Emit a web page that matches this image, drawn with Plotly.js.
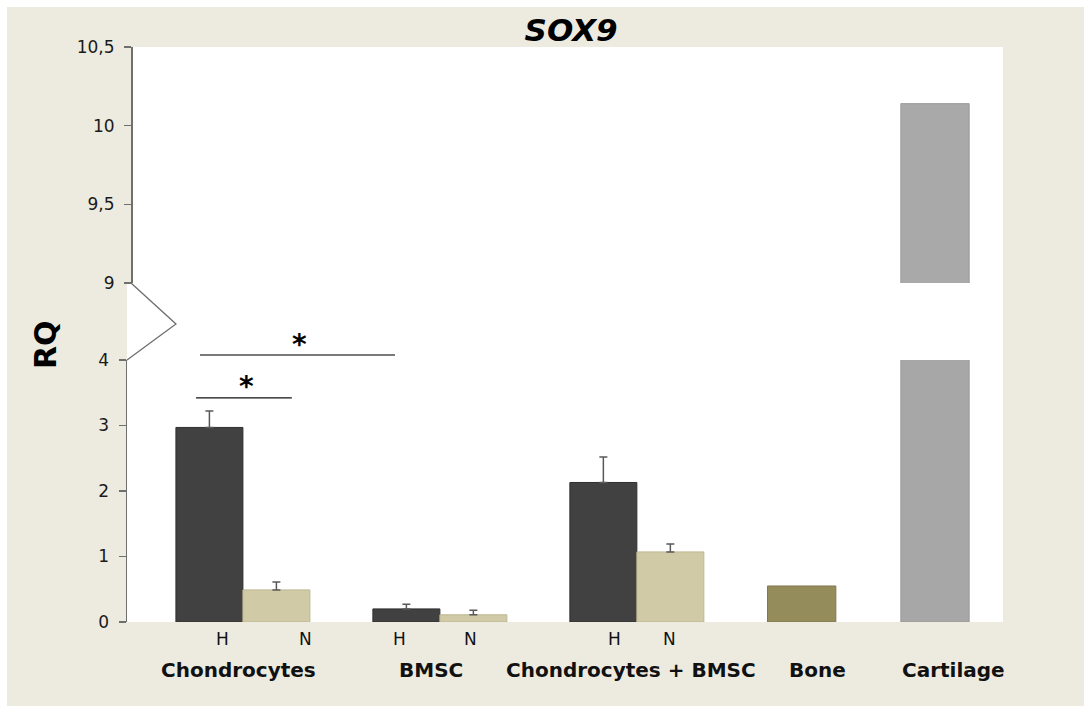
<!DOCTYPE html>
<html>
<head>
<meta charset="utf-8">
<script src="https://cdn.plot.ly/plotly-3.0.1.min.js"></script>
<style>
  html, body { margin: 0; padding: 0; background: #ffffff; }
  #chart { position: absolute; left: 7px; top: 7px; width: 1077px; height: 699px; }
</style>
</head>
<body>
<div id="chart"></div>
<script>
// ---- data ----
const groups = ['Chondrocytes', 'BMSC', 'Chondrocytes + BMSC'];
const singles = ['Bone', 'Cartilage'];
const hValues = [2.97, 0.20, 2.13];
const hErrors = [0.25, 0.07, 0.39];
const nValues = [0.49, 0.11, 1.07];
const nErrors = [0.12, 0.07, 0.12];
const boneValue = [0.55];
const cartilageValue = [10.14];
const seriesLabels = ['H', 'N'];
const lowerTicks = [0, 1, 2, 3, 4];
const upperTicks = [9, 9.5, 10, 10.5];

// ---- layout helpers (positions in x-axis units, 1 unit = one bar width) ----
const groupCenters = [1.73, 4.67, 7.61];
const singleCenters = [10.07, 12.06];
const hPos = groupCenters.map(c => c - 0.5);
const nPos = groupCenters.map(c => c + 0.5);
const hLabelPos = [1.42, 4.07, 7.28];
const nLabelPos = [2.67, 5.13, 8.10];
const groupLabelPos = [1.67, 4.54, 7.52];
const singleLabelPos = [10.31, 12.33];

const lowerTop = 0.4557;   // lower panel domain top
const upperBot = 0.5896;   // upper panel domain bottom
const upperAxisShift = 0.00457;

const FONT = 'DejaVu Sans, Verdana, sans-serif';
const errStyle = { type: 'data', symmetric: false, arrayminus: [0, 0, 0], color: '#595959', thickness: 1.5, width: 4 };

const traces = [
  {
    type: 'bar', x: hPos, y: hValues, width: 1, xaxis: 'x', yaxis: 'y', name: 'H',
    marker: { color: '#414141', line: { color: '#303030', width: 1 } },
    error_y: Object.assign({}, errStyle, { array: hErrors }),
    hoverinfo: 'y'
  },
  {
    type: 'bar', x: nPos, y: nValues, width: 1, xaxis: 'x', yaxis: 'y', name: 'N',
    marker: { color: '#d0caa6', line: { color: '#bdb791', width: 1 } },
    error_y: Object.assign({}, errStyle, { array: nErrors }),
    hoverinfo: 'y'
  },
  {
    type: 'bar', x: [singleCenters[0]], y: boneValue, width: 1.02, xaxis: 'x', yaxis: 'y', name: 'Bone',
    marker: { color: '#948c5b', line: { color: '#807850', width: 1 } }, hoverinfo: 'y'
  },
  {
    type: 'bar', x: [singleCenters[1]], y: cartilageValue, width: 1.02, xaxis: 'x', yaxis: 'y', name: 'Cartilage',
    marker: { color: '#a7a7a7', line: { color: '#9a9a9a', width: 1 } }, hoverinfo: 'y'
  },
  {
    type: 'bar', x: [singleCenters[1]], y: cartilageValue, width: 1.02, xaxis: 'x', yaxis: 'y2', name: 'Cartilage',
    marker: { color: '#a9a9a9', line: { color: '#9a9a9a', width: 1 } }, hoverinfo: 'y'
  }
];

const annotations = [];
groups.forEach((g, i) => {
  annotations.push({ xref: 'x', yref: 'paper', x: hLabelPos[i], y: -0.0296, text: seriesLabels[0], showarrow: false,
    xanchor: 'center', yanchor: 'middle', font: { family: FONT, size: 17, color: '#111111' } });
  annotations.push({ xref: 'x', yref: 'paper', x: nLabelPos[i], y: -0.0296, text: seriesLabels[1], showarrow: false,
    xanchor: 'center', yanchor: 'middle', font: { family: FONT, size: 17, color: '#111111' } });
  annotations.push({ xref: 'x', yref: 'paper', x: groupLabelPos[i], y: -0.0835, text: g, showarrow: false,
    xanchor: 'center', yanchor: 'middle', font: { family: FONT, size: 20, color: '#111111', weight: 'bold' } });
});
singles.forEach((s, i) => {
  annotations.push({ xref: 'x', yref: 'paper', x: singleLabelPos[i], y: -0.0835, text: s, showarrow: false,
    xanchor: 'center', yanchor: 'middle', font: { family: FONT, size: 20, color: '#111111', weight: 'bold' } });
});
// y-axis title
annotations.push({ xref: 'paper', yref: 'paper', x: -0.0936, y: 0.4817, text: 'RQ', textangle: -90, showarrow: false,
  xanchor: 'center', yanchor: 'middle', font: { family: FONT, size: 30, color: '#000000', weight: 'bold' } });
// significance stars
annotations.push({ xref: 'x', yref: 'y', x: 1.78, y: 3.60, text: '*', showarrow: false,
  xanchor: 'center', yanchor: 'middle', font: { family: FONT, size: 28, color: '#000000', weight: 'bold' } });
annotations.push({ xref: 'x', yref: 'paper', x: 2.57, y: 0.482, text: '*', showarrow: false,
  xanchor: 'center', yanchor: 'middle', font: { family: FONT, size: 28, color: '#000000', weight: 'bold' } });

const shapes = [
  // white plot area: lower panel + gap
  { type: 'rect', xref: 'paper', yref: 'paper', x0: 0, x1: 1, y0: 0, y1: upperBot, fillcolor: '#ffffff', line: { width: 0 }, layer: 'below' },
  // white plot area: upper panel
  { type: 'rect', xref: 'paper', yref: 'paper', x0: upperAxisShift, x1: 1, y0: upperBot, y1: 1, fillcolor: '#ffffff', line: { width: 0 }, layer: 'below' },
  // axis break zigzag
  { type: 'path', xref: 'paper', yref: 'paper',
    path: 'M ' + upperAxisShift + ',' + upperBot + ' L 0.0559,0.5183 L 0,' + lowerTop,
    line: { color: '#6e6e6e', width: 1.3 }, layer: 'above' },
  // significance lines
  { type: 'line', xref: 'x', yref: 'y', x0: 1.03, x1: 2.46, y0: 3.42, y1: 3.42, line: { color: '#111111', width: 1.3 } },
  { type: 'line', xref: 'x', yref: 'paper', x0: 1.09, x1: 4.0, y0: 0.4643, y1: 0.4643, line: { color: '#7a7a7a', width: 2 } }
];

const axisCommon = {
  showgrid: false, zeroline: false, showline: true, linecolor: '#6f6f6f', linewidth: 1.5,
  ticks: 'outside', ticklen: 7, tickwidth: 1.5, tickcolor: '#6f6f6f',
  tickfont: { family: FONT, size: 17, color: '#1a1a1a' }, ticklabelstandoff: 6, fixedrange: true
};

const layout = {
  width: 1077, height: 699,
  margin: { l: 120, r: 81, t: 40, b: 84 },
  paper_bgcolor: '#edebe0',
  plot_bgcolor: 'rgba(0,0,0,0)',
  separators: ',.',
  showlegend: false,
  barmode: 'overlay',
  title: { text: 'SOX9', xref: 'paper', x: 0.507, xanchor: 'center', yref: 'container', y: 0.967, yanchor: 'middle',
    font: { family: FONT, size: 31, color: '#000000', weight: 'bold', style: 'italic' } },
  xaxis: { range: [0, 13.075], showgrid: false, zeroline: false, showline: false, showticklabels: false, ticks: '',
    anchor: 'y', fixedrange: true },
  yaxis: Object.assign({}, axisCommon, { domain: [0, lowerTop], range: [0, 4], tickvals: lowerTicks, anchor: 'x' }),
  yaxis2: Object.assign({}, axisCommon, { domain: [upperBot, 1], range: [9, 10.5], tickvals: upperTicks,
    anchor: 'free', position: upperAxisShift }),
  annotations: annotations,
  shapes: shapes
};

Plotly.newPlot('chart', traces, layout, { displayModeBar: false, staticPlot: true });
</script>
</body>
</html>
